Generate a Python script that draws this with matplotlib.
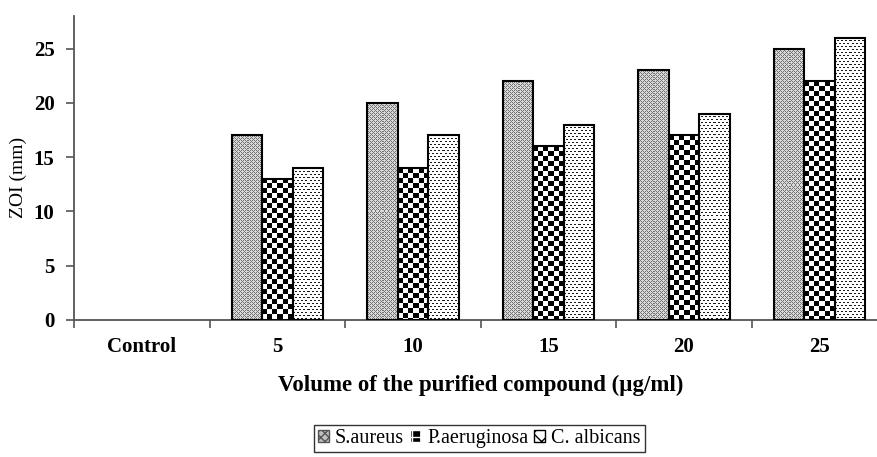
import numpy as np
import matplotlib.pyplot as plt
from matplotlib.patches import Patch

categories = ['Control', '5', '10', '15', '20', '25']
s_aureus = [0, 17, 20, 22, 23, 25]
p_aeruginosa = [0, 13, 14, 16, 17, 22]
c_albicans = [0, 14, 17, 18, 19, 26]
series_names = ['S.aureus', 'P.aeruginosa', 'C. albicans']

plt.rcParams['font.family'] = 'Liberation Serif'


# small pixel textures used to fill the bars
def tex_gray(i, j):
    on = ((i + j) % 4 == 0) | ((i - j) % 4 == 0)
    return np.where(on, 0.45, 0.85)


def tex_check(i, j):
    return np.where(((i // 5) + (j // 5)) % 2 == 0, 0.0, 1.0)


def tex_dots(i, j):
    on = (i % 3 == 0) & ((j + (i // 3 % 2) * 2) % 4 < 2)
    return np.where(on, 0.1, 1.0)


fig = plt.figure(figsize=(8.78, 4.57), dpi=100)
ax = fig.add_axes([0.0843, 0.2998, 0.926, 0.665])
ax.set_xlim(-0.5, len(categories) - 0.5)
ax.set_ylim(0, 28)

x = np.arange(len(categories))
w = 0.225
series = [s_aureus, p_aeruginosa, c_albicans]
textures = [tex_gray, tex_check, tex_dots]

for k, (vals, tex) in enumerate(zip(series, textures)):
    edges = ['black' if v > 0 else 'none' for v in vals]
    bars = ax.bar(x + (k - 1) * w, vals, w, facecolor='none', edgecolor=edges,
                  linewidth=1.5, zorder=3)
    for r, v in zip(bars, vals):
        if v <= 0:
            continue
        x0, y0 = r.get_x(), 0
        x1, y1 = r.get_x() + r.get_width(), v
        p0 = ax.transData.transform((x0, y0))
        p1 = ax.transData.transform((x1, y1))
        cols = max(int(round(p1[0] - p0[0])), 1)
        rows = max(int(round(p1[1] - p0[1])), 1)
        i, j = np.mgrid[0:rows, 0:cols]
        img = tex(i, j)
        ax.imshow(img, cmap='gray', vmin=0, vmax=1, extent=(x0, x1, y0, y1),
                  aspect='auto', interpolation='nearest', zorder=2, origin='upper')

ax.set_xlim(-0.5, len(categories) - 0.5)
ax.set_ylim(0, 28)
ax.set_yticks([0, 5, 10, 15, 20, 25])
ax.set_xticks(x)
ax.set_xticklabels(categories, fontweight='bold', fontsize=15)
ax.set_xticks(np.arange(-0.5, len(categories), 1), minor=True)
ax.tick_params(axis='x', which='major', length=0, pad=12)
ax.tick_params(axis='x', which='minor', length=6, width=1.2, direction='out', color='#555555')
ax.tick_params(axis='y', length=6, width=1.2, direction='out', color='#555555', labelsize=15, pad=8)
for lab in ax.get_yticklabels():
    lab.set_fontweight('bold')

ax.spines['top'].set_visible(False)
ax.spines['right'].set_visible(False)
for s in ('left', 'bottom'):
    ax.spines[s].set_color('#555555')
    ax.spines[s].set_linewidth(1.3)

ax.set_ylabel('ZOI (mm)', fontsize=14)
ax.yaxis.set_label_coords(-0.058, 0.47)
ax.set_xlabel('Volume of the purified compound (\u00b5g/ml)', fontweight='bold', fontsize=16.5, labelpad=13)

handles = [
    Patch(facecolor='#c0c0c0', edgecolor='#555555', hatch='xxxx', label=series_names[0]),
    Patch(facecolor='black', edgecolor='white', hatch='++', label=series_names[1]),
    Patch(facecolor='white', edgecolor='black', hatch='xx', label=series_names[2]),
]
leg = fig.legend(handles=handles, loc='upper center', bbox_to_anchor=(0.546, 0.070), ncol=3,
                 frameon=True, fancybox=False, edgecolor='black',
                 prop={'family': 'Liberation Serif', 'size': 14.5},
                 handlelength=0.55, handleheight=0.55, handletextpad=0.3, columnspacing=0.3,
                 borderpad=0.2, borderaxespad=0)
leg.get_frame().set_linewidth(1.0)

plt.savefig('out.png', dpi=100)
